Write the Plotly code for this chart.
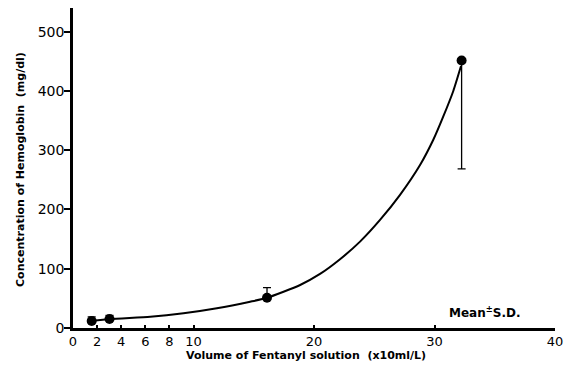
import plotly.graph_objects as go

# Measured points (mean) and one-sided S.D.
vol = [1.55, 3.03, 16.1, 32.25]
hb_mean = [11.8, 15.2, 51, 451.5]
sd_plus = [7, 6, 17, 0]
sd_minus = [0, 0, 0, 183]

# Fitted curve
curve_x = [1.55, 3.03, 6.41, 9.17, 11.94, 14.7, 16.1, 18.85, 20.5, 22.16, 23.82,
           25.48, 27.14, 28.8, 29.9, 30.73, 31.56, 32.2]
curve_y = [11.8, 15.2, 19, 24.8, 33.3, 44.4, 51, 72.6, 91.2, 116, 145.8,
           182.4, 224.7, 275, 317.6, 357, 400, 442]

x_ticks = [0, 2, 4, 6, 8, 10, 20, 30, 40]
x_ticktext = ["0", "2", "4", "6", "8", "10", "20", "30", "40"]
y_ticks = [0, 100, 200, 300, 400, 500]

W, H = 573, 366
ML, MR, MT, MB = 73, 18, 8, 38

fig = go.Figure()
fig.add_trace(go.Scatter(
    x=curve_x, y=curve_y, mode="lines",
    line=dict(color="black", width=2, shape="spline", smoothing=0.6),
    hoverinfo="skip", showlegend=False))
fig.add_trace(go.Scatter(
    x=vol, y=hb_mean, mode="markers",
    marker=dict(color="black", size=10, symbol="circle"),
    error_y=dict(type="data", symmetric=False, array=sd_plus, arrayminus=sd_minus,
                 color="black", thickness=1.3, width=4),
    showlegend=False))

fam = "DejaVu Sans, sans-serif"
pw = W - ML - MR
ph = H - MT - MB

def px_to_paper(px, py):
    return (px - ML) / pw, (H - MB - py) / ph

xt_x, xt_y = px_to_paper(306, 355)
yt_x, yt_y = px_to_paper(20, 170)

fig.update_layout(
    width=W, height=H,
    margin=dict(l=ML, r=MR, t=MT, b=MB),
    paper_bgcolor="white", plot_bgcolor="white",
    font=dict(family=fam, color="black"),
    xaxis=dict(range=[0, 40], tickvals=x_ticks, ticktext=x_ticktext,
               showline=True, linecolor="black", linewidth=2.5,
               ticks="inside", ticklen=3, tickwidth=1.5, tickcolor="black",
               showgrid=False, zeroline=False, automargin=False,
               tickfont=dict(size=13, family=fam)),
    yaxis=dict(range=[0, 540], tickvals=y_ticks,
               showline=True, linecolor="black", linewidth=2.5,
               ticks="outside", ticklen=6, tickwidth=1.5, tickcolor="black",
               ticklabelstandoff=-3,
               showgrid=False, zeroline=False, automargin=False,
               tickfont=dict(size=14, family=fam)),
    annotations=[
        dict(x=34.2, y=27, xref="x", yref="y",
             text="<b>Mean<sup>±</sup>S.D.</b>", showarrow=False,
             xanchor="center", yanchor="middle",
             font=dict(size=12, family=fam, color="black")),
        dict(x=xt_x, y=xt_y, xref="paper", yref="paper",
             text="<b>Volume of Fentanyl solution  (x10ml/L)</b>", showarrow=False,
             xanchor="center", yanchor="middle",
             font=dict(size=11, family=fam, color="black")),
        dict(x=yt_x, y=yt_y, xref="paper", yref="paper",
             text="<b>Concentration of Hemoglobin  (mg/dl)</b>", showarrow=False,
             textangle=-90, xanchor="center", yanchor="middle",
             font=dict(size=11, family=fam, color="black")),
    ],
)

fig.write_html("out.html", config={"displayModeBar": False},
               post_script="document.body.style.margin='0';")
